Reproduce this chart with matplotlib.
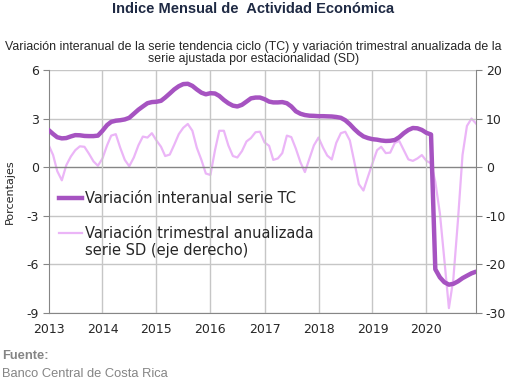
import numpy as np
import pandas as pd
import matplotlib
matplotlib.use("Agg")
import matplotlib.pyplot as plt

# monthly dates, Jan 2013 - Dec 2020
months = pd.date_range("2013-01-01", "2020-12-01", freq="MS")

# variacion interanual serie TC (eje izquierdo)
tc = [2.30, 2.05, 1.85, 1.78, 1.80, 1.90, 1.98, 1.97, 1.93, 1.92, 1.92, 1.95,
      2.25, 2.60, 2.80, 2.87, 2.90, 2.95, 3.05, 3.30, 3.55, 3.75, 3.95, 4.02,
      4.04, 4.10, 4.30, 4.55, 4.80, 5.00, 5.13, 5.15, 5.02, 4.80, 4.60, 4.50,
      4.57, 4.55, 4.40, 4.15, 3.95, 3.80, 3.75, 3.85, 4.05, 4.25, 4.30, 4.30,
      4.20, 4.05, 4.00, 4.00, 4.02, 3.95, 3.75, 3.45, 3.30, 3.22, 3.18, 3.17,
      3.15, 3.15, 3.14, 3.13, 3.10, 3.05, 2.90, 2.65, 2.35, 2.10, 1.90, 1.80,
      1.73, 1.70, 1.65, 1.62, 1.63, 1.68, 1.85, 2.10, 2.30, 2.42, 2.40, 2.30,
      2.12, 2.02, -6.30, -6.80, -7.10, -7.25, -7.20, -7.05, -6.85, -6.70, -6.55, -6.45]

# variacion trimestral anualizada serie SD (eje derecho)
sd = [4.6, 2.5, -0.8, -2.7, 0.4, 2.2, 3.5, 4.3, 4.2, 2.8, 1.2, 0.3,
      1.8, 4.5, 6.5, 6.8, 4.0, 1.5, 0.2, 2.0, 4.5, 6.3, 6.1, 7.0,
      5.5, 4.2, 2.3, 2.6, 4.6, 6.8, 8.1, 8.9, 7.5, 4.0, 1.5, -1.3,
      -1.6, 3.5, 7.5, 7.5, 4.5, 2.3, 2.0, 3.3, 5.3, 6.0, 7.2, 7.3,
      5.1, 4.4, 1.5, 1.8, 2.9, 6.5, 6.2, 3.8, 1.0, -1.0, 1.8, 4.5,
      6.1, 4.0, 2.4, 1.6, 5.0, 7.0, 7.3, 5.5, 1.0, -3.5, -4.8, -2.0,
      0.8, 3.5, 4.2, 2.9, 3.0, 5.0, 5.4, 3.5, 1.6, 1.3, 1.8, 2.5,
      1.3, 0.8, -3.0, -9.5, -19.0, -29.0, -23.0, -11.0, 2.5, 8.5, 10.0, 9.0]

left_ticks = [6, 3, 0, -3, -6, -9]
right_ticks = [20, 10, 0, -10, -20, -30]
years = list(range(2013, 2021))

tc_color = "#a653c1"
sd_color = "#ebb5f7"
grid_color = "#c6c6c6"
axis_color = "#868686"
text_color = "#262626"

plt.rcParams['font.family'] = ['DejaVu Sans']

fig = plt.figure(figsize=(5.14, 3.83), dpi=100)
ax = fig.add_axes([0.0944, 0.1828, 0.8316, 0.6344])
ax2 = ax.twinx()

ax.set_ylim(-9, 6)
ax2.set_ylim(-30, 20)
ax.set_xlim(months[0], months[-1])

# grid
for yv in left_ticks:
    ax.axhline(yv, color=axis_color if yv == 0 else grid_color, lw=1.0, zorder=1)
year_dates = [pd.Timestamp(f"{y}-01-01") for y in years]
for d in year_dates[1:]:
    ax.axvline(d, color=grid_color, lw=1.0, zorder=1)

ax2.plot(months, sd, color=sd_color, lw=1.6, solid_joinstyle='round', zorder=2)
ax.plot(months, tc, color=tc_color, lw=3.2, solid_joinstyle='round',
        solid_capstyle='round', zorder=3)
ax.set_zorder(ax2.get_zorder() + 1)
ax.patch.set_visible(False)

ax.set_yticks(left_ticks)
ax.set_yticklabels([str(v) for v in left_ticks])
ax2.set_yticks(right_ticks)
ax2.set_yticklabels([str(v) for v in right_ticks])
ax.set_xticks(year_dates)
ax.set_xticklabels([str(y) for y in years])

for a in (ax, ax2):
    for s in a.spines.values():
        s.set_visible(False)
ax.spines['left'].set_visible(True)
ax.spines['left'].set_color(axis_color)
ax.spines['bottom'].set_visible(True)
ax.spines['bottom'].set_color(axis_color)
ax2.spines['right'].set_visible(True)
ax2.spines['right'].set_color(axis_color)

ax.tick_params(axis='y', length=4, color=axis_color, labelsize=9,
               labelcolor=text_color, pad=3)
ax2.tick_params(axis='y', length=4, color=axis_color, labelsize=9,
                labelcolor=text_color, pad=3)
ax.tick_params(axis='x', length=0, labelsize=9, labelcolor=text_color, pad=7)

ax.set_ylabel("Porcentajes", fontsize=8, color=text_color, labelpad=8)

# legend inside the plot
leg_tc, = ax.plot([], [], color=tc_color, lw=3.2)
leg_sd, = ax.plot([], [], color=sd_color, lw=1.6)
leg = ax.legend([leg_tc, leg_sd],
                ["Variación interanual serie TC",
                 "Variación trimestral anualizada\nserie SD (eje derecho)"],
                loc='upper left', bbox_to_anchor=(0.01, 0.525), frameon=False,
                fontsize=10.5, handlelength=1.6, handletextpad=0.2,
                labelspacing=1.35, borderaxespad=0)
for t in leg.get_texts():
    t.set_color(text_color)
# put the SD handle next to the first text line, as in the original
sd_handle = leg.legend_handles[1]
yd = sd_handle.get_ydata()
sd_handle.set_ydata([v + 7.0 for v in yd])

fig.text(0.493, 0.995, "Indice Mensual de  Actividad Económica", ha='center',
         va='top', fontsize=10.5, fontweight='bold', color="#1f2a44",
         family='Liberation Sans')
fig.text(0.493, 0.893, "Variación interanual de la serie tendencia ciclo (TC) y variación trimestral anualizada de la\nserie ajustada por estacionalidad (SD)",
         ha='center', va='top', fontsize=8.9, color=text_color,
         family='Liberation Sans', linespacing=1.05)
fig.text(0.004, 0.055, "Fuente:", ha='left', va='bottom', fontsize=9.3,
         fontweight='bold', color="#858585", family='Liberation Sans')
fig.text(0.004, 0.008, "Banco Central de Costa Rica", ha='left', va='bottom',
         fontsize=9.3, color="#858585", family='Liberation Sans')

fig.savefig("out.png", dpi=100)
